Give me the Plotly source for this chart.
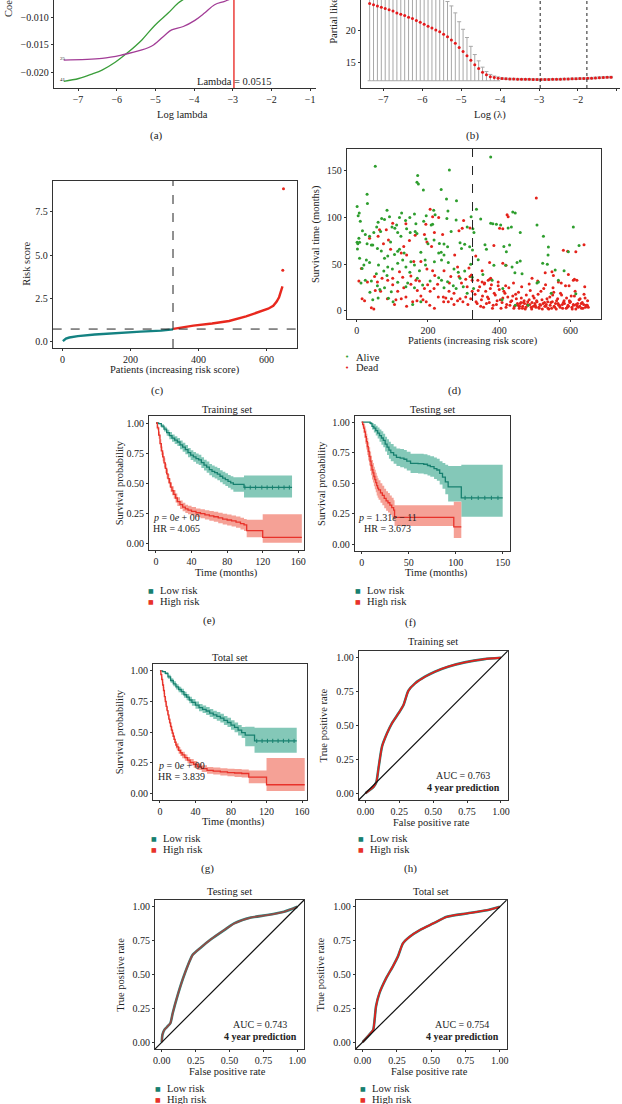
import numpy as np
import plotly.graph_objects as go

W, H = 622, 1104
SERIF = "Liberation Serif"
AX = "#333333"
TEAL, TEAL_FILL = "#17806F", "rgba(110,190,172,0.85)"
RED, RED_FILL = "#E8322A", "rgba(243,145,132,0.85)"

# ---------------- (a) lasso coefficient paths ----------------
coef_green_x = [-7.37, -6.98, -6.64, -6.38, -6.04, -5.74, -5.35, -5.03, -4.67, -4.41, -4.15, -3.9]
coef_green_y = [-0.0215, -0.0210, -0.0202, -0.0195, -0.0181, -0.0165, -0.0141, -0.0116, -0.0093, -0.0075, -0.0063, -0.005]
coef_purple_x = [-7.37, -6.38, -5.87, -5.35, -5.05, -4.75, -4.58, -4.28, -3.98, -3.73, -3.47, -3.21, -3.0, -2.8]
coef_purple_y = [-0.0177, -0.0174, -0.0168, -0.0159, -0.0150, -0.0132, -0.0123, -0.0117, -0.0106, -0.0093, -0.0078, -0.0072, -0.0066, -0.006]
lambda_min_log = -2.97
lambda_1se_log = -1.77

# ---------------- (b) cross-validation ----------------
log_lam = [-7.35, -7.25, -7.15, -7.05, -6.95, -6.85, -6.75, -6.65, -6.55, -6.45, -6.35, -6.25, -6.15,
           -6.05, -5.95, -5.85, -5.75, -5.65, -5.55, -5.45, -5.35, -5.25, -5.15, -5.05, -4.95, -4.85,
           -4.75, -4.65, -4.55, -4.45, -4.35, -4.25, -4.15, -4.05, -3.95, -3.85, -3.75, -3.65, -3.55,
           -3.45, -3.35, -3.25, -3.15, -3.05, -2.95, -2.85, -2.75, -2.65, -2.55, -2.45, -2.35, -2.25,
           -2.15, -2.05, -1.95, -1.85, -1.75, -1.65, -1.55, -1.45, -1.35, -1.25, -1.15]
cv_mean = [24.3, 24.1, 23.9, 23.7, 23.5, 23.3, 23.1, 22.8, 22.6, 22.4, 22.1, 21.9, 21.6, 21.3, 21.0,
           20.7, 20.4, 20.1, 19.8, 19.4, 19.0, 18.5, 18.0, 17.3, 16.7, 16.0, 15.3, 14.6, 14.0, 13.4,
           13.0, 12.7, 12.55, 12.45, 12.4, 12.36, 12.33, 12.31, 12.3, 12.29, 12.28, 12.27, 12.26,
           12.25, 12.25, 12.25, 12.26, 12.27, 12.28, 12.3, 12.31, 12.33, 12.35, 12.37, 12.39, 12.41,
           12.43, 12.46, 12.5, 12.54, 12.57, 12.6, 12.62]
cv_upper = [30.0, 30.0, 30.0, 30.0, 30.0, 30.0, 30.0, 30.0, 30.0, 30.0, 30.0, 30.0, 30.0, 30.0, 30.0,
            30.0, 30.0, 30.0, 30.0, 25.6, 24.6, 23.9, 22.8, 21.4, 20.2, 18.9, 17.5, 16.2, 15.2, 14.2,
            13.5, 13.05, 12.8, 12.65, 12.52, 12.48, 12.45, 12.43, 12.42, 12.41, 12.4, 12.39, 12.38,
            12.37, 12.37, 12.37, 12.38, 12.39, 12.4, 12.42, 12.43, 12.45, 12.47, 12.49, 12.51, 12.53,
            12.55, 12.58, 12.62, 12.66, 12.69, 12.72, 12.74]
cv_lower = [12.05, 12.05, 12.05, 12.05, 12.05, 12.05, 12.05, 12.05, 12.05, 12.05, 12.05, 12.05, 12.05,
            12.05, 12.05, 12.05, 12.05, 12.05, 12.05, 12.05, 12.05, 12.05, 12.05, 12.05, 12.05, 12.05,
            12.05, 12.05, 12.05, 12.05, 12.05, 12.05, 12.05, 12.05, 12.28, 12.24, 12.21, 12.19, 12.18,
            12.17, 12.16, 12.15, 12.14, 12.13, 12.13, 12.13, 12.14, 12.15, 12.16, 12.18, 12.19, 12.21,
            12.23, 12.25, 12.27, 12.29, 12.31, 12.34, 12.38, 12.42, 12.45, 12.48, 12.5]

# ---------------- (c) risk score curve ----------------
cutoff_patient = 325
cutoff_score = 0.70
low_rank = [1, 5, 10, 20, 45, 95, 160, 230, 290, 325]
low_score = [0.0, 0.09, 0.15, 0.21, 0.29, 0.38, 0.48, 0.55, 0.61, 0.68]
high_rank = [326, 385, 440, 490, 540, 575, 605, 620, 630, 637, 642, 645, 647]
high_score = [0.71, 0.9, 1.02, 1.17, 1.44, 1.68, 1.88, 2.05, 2.3, 2.55, 2.9, 3.1, 3.18]
outlier_rank = [648, 650]
outlier_score = [4.12, 8.85]

# ---------------- (d) survival status ----------------
alive_points = [
    (52, 155), (171, 145), (169, 138), (173, 136), (187, 129.5), (237, 130), (260, 151), (252, 120),
    (280, 118), (29, 125), (30, 115), (1, 112), (7, 105), (4, 102), (10, 96), (85, 108), (126, 105),
    (92, 101), (70, 99), (78, 98), (120, 100), (149, 100), (162, 104), (216, 108), (220, 103),
    (256, 107), (209, 92), (213, 93), (279, 97.5), (253, 99), (188, 96), (166, 93.5), (137, 97),
    (60, 95), (67, 85), (48, 84), (16, 86), (24, 82), (6, 78), (1, 73.5), (3, 72), (36, 80), (8, 73.5),
    (41, 70.6), (29, 72), (56, 90), (99, 90), (107, 88.5), (115, 84), (124, 80), (150, 84), (164, 85),
    (169, 83), (194, 77), (217, 76), (232, 72.4), (245, 71.7), (255, 68.8), (290, 73), (303, 71.4),
    (317, 68.8), (325, 65.3), (294, 67), (245, 60), (237, 63), (180, 63), (192, 54.6), (152, 52.8),
    (115, 64), (106, 60.6), (87, 58.9), (78, 56.4), (69, 64.2), (58, 67), (45, 70.6), (27, 54.6),
    (20, 49.2), (2, 66.4), (8, 56.4), (36, 52), (61, 49.2), (76, 42.8), (87, 47), (100, 45), (115, 51),
    (129, 54.6), (138, 47), (149, 41.4), (162, 49.2), (176, 43.2), (193, 49.2), (218, 52.8),
    (238, 54.6), (257, 52), (273, 45), (285, 41.4), (303, 42.8), (290, 35), (255, 31.4), (230, 35.7),
    (206, 32), (185, 27.8), (162, 25), (138, 26), (115, 30.7), (97, 20.7), (78, 25), (58, 27), (41, 32),
    (24, 33), (37, 20), (60, 14), (89, 13.5), (157, 7), (238, 33), (245, 25), (279, 24), (271, 27),
    (299, 26), (310, 19), (15, 45.6), (120, 66), (133, 62), (95, 74), (112, 92), (140, 88), (200, 72),
    (265, 85), (310, 90), (143, 30), (170, 35), (55, 40), (65, 23), (85, 38), (195, 102), (230, 62),
    (320, 50), (12, 30), (45, 12), (102, 10), (180, 10),
    (376, 165), (336, 109), (321, 101), (348, 98.5), (376, 94), (382, 93.5), (392, 93), (404, 92),
    (434, 90), (438, 106), (445, 105), (425, 89), (459, 84), (506, 92), (524, 80), (538, 68.5),
    (537, 60), (608, 90), (624, 70), (594, 63.5), (360, 71), (364, 66), (413, 69), (429, 70.6),
    (420, 63.5), (385, 49), (418, 49), (436, 47), (444, 41), (459, 53.5), (450, 52), (464, 40),
    (522, 51), (535, 50), (557, 44), (582, 43), (566, 33), (506, 30), (510, 31), (341, 55), (354, 39),
    (380, 33), (410, 24), (546, 19), (615, 18.5), (481, 6), (408, 12), (445, 6), (326, 88), (329, 84),
    (328, 24), (324, 36),
]
dead_points = [
    (206, 109), (194, 93), (213, 101), (138, 93.5), (101, 94), (83, 87), (64, 87), (36, 78), (190, 82),
    (164, 81), (148, 75.6), (132, 69), (197, 74), (210, 69), (140, 60), (125, 62), (180, 53), (160, 53),
    (287, 86), (296, 88.5), (318, 89), (241, 82), (218, 84), (89, 76), (75, 72), (13, 45.6), (6, 32),
    (50, 37), (58, 31), (87, 33), (101, 28), (115, 21), (132, 25), (152, 28.5), (166, 33), (197, 45),
    (213, 43), (219, 38), (227, 28.5), (245, 43), (264, 37), (287, 37), (294, 30), (306, 34), (318, 37),
    (324, 33), (322, 38.5), (283, 47), (315, 46), (273, 19), (259, 21), (243, 15), (217, 24), (206, 21),
    (190, 24), (180, 16), (169, 11), (157, 10), (138, 15), (125, 13), (106, 7), (86, 13), (67, 21),
    (52, 22), (41, 3.5), (48, 2), (15, 13), (22, 11), (186, 12), (195, 10), (205, 6), (218, 3), (229, 15),
    (244, 10), (250, 14), (257, 10), (266, 13), (273, 7), (283, 11), (290, 13), (298, 10), (306, 15),
    (312, 7), (320, 13), (324, 21), (199, 28), (176, 32), (152, 37.5), (120, 42), (129, 36), (101, 35),
    (71, 35), (30, 31), (95, 66), (60, 80), (230, 100), (300, 97), (275, 60), (110, 12), (140, 5),
    (170, 22), (260, 30), (310, 26),
    (504, 121), (422, 103), (425, 101), (410, 88), (401, 88.5), (385, 70), (373, 52), (410, 51),
    (419, 49), (334, 59), (352, 43), (369, 33), (373, 34), (352, 31), (580, 65), (592, 64), (615, 63.5),
    (638, 71), (529, 41), (548, 42), (552, 38), (594, 39), (611, 34), (608, 33), (566, 31), (492, 35),
    (332, 18), (338, 8), (345, 26), (350, 12), (356, 4), (362, 21), (367, 15), (372, 9), (378, 28),
    (383, 6), (389, 17), (394, 11), (400, 23), (405, 3), (410, 14), (416, 19), (421, 7), (427, 25),
    (432, 10), (438, 16), (443, 5), (448, 13), (454, 20), (459, 8), (465, 3), (470, 11), (476, 17),
    (481, 6), (487, 22), (492, 9), (498, 14), (503, 4), (509, 18), (514, 7), (520, 12), (525, 24),
    (531, 5), (536, 10), (542, 15), (547, 3), (553, 20), (558, 8), (564, 13), (569, 6), (575, 17),
    (580, 9), (586, 27), (591, 4), (597, 11), (602, 16), (608, 7), (613, 21), (619, 5), (624, 12),
    (630, 8), (635, 3), (641, 14), (646, 6), (650, 4),
    (335, 10), (341, 22), (348, 5), (353, 16), (359, 30), (364, 8), (370, 13), (375, 24), (381, 3),
    (386, 19), (392, 7), (397, 27), (403, 12), (408, 9), (413, 21), (419, 4), (424, 15), (430, 6),
    (435, 11), (441, 3), (446, 18), (451, 8), (457, 5), (462, 14), (468, 9), (473, 2), (479, 7),
    (484, 12), (490, 4), (495, 16), (501, 6), (506, 10), (512, 3), (517, 21), (523, 8), (528, 5),
    (534, 13), (539, 2), (545, 9), (550, 17), (556, 4), (561, 11), (567, 6), (572, 19), (578, 3),
    (583, 8), (589, 14), (594, 5), (600, 10), (605, 2), (611, 16), (616, 7), (622, 4), (627, 13),
    (633, 9), (638, 18), (644, 6), (648, 11),
    (452, 6), (456, 3), (461, 9), (466, 5), (471, 8), (475, 4), (480, 10), (486, 7), (491, 2), (496, 5),
    (500, 8), (505, 11), (511, 4), (516, 6), (521, 2), (527, 9), (532, 7), (537, 3), (543, 6), (549, 10),
    (554, 5), (560, 2), (565, 8), (571, 4), (577, 7), (582, 11), (588, 3), (593, 6), (598, 9), (604, 4),
    (609, 6), (615, 2), (620, 8), (626, 5), (631, 3), (637, 7), (642, 4), (647, 6),
    (340, 33), (358, 29), (376, 35), (397, 31), (418, 27), (440, 30), (463, 26), (484, 29), (508, 32),
    (530, 28), (551, 25), (574, 30), (596, 27), (618, 33), (640, 26),
]

# ---------------- (e)-(g) Kaplan-Meier ----------------
train_low_t = [0, 3, 6, 9, 12, 15, 18, 21, 24, 27, 30, 33, 36, 39, 42, 45, 48, 51, 54, 57, 60, 63, 66, 69, 72, 75, 78, 81, 84, 87, 99, 153]
train_low_s = [1.0, 0.995, 0.975, 0.95, 0.92, 0.895, 0.875, 0.858, 0.843, 0.82, 0.80, 0.78, 0.755, 0.735, 0.72, 0.705, 0.695, 0.672, 0.652, 0.635, 0.615, 0.60, 0.59, 0.577, 0.56, 0.545, 0.532, 0.518, 0.505, 0.492, 0.467, 0.467]
train_low_up = [1.0, 1.0, 0.99, 0.97, 0.945, 0.925, 0.905, 0.89, 0.877, 0.856, 0.837, 0.818, 0.794, 0.775, 0.761, 0.747, 0.738, 0.716, 0.697, 0.681, 0.662, 0.648, 0.639, 0.627, 0.61, 0.596, 0.584, 0.571, 0.56, 0.552, 0.567, 0.567]
train_low_lo = [1.0, 0.99, 0.96, 0.93, 0.895, 0.865, 0.845, 0.826, 0.809, 0.784, 0.763, 0.742, 0.716, 0.695, 0.679, 0.663, 0.652, 0.628, 0.607, 0.589, 0.568, 0.552, 0.541, 0.527, 0.51, 0.494, 0.48, 0.465, 0.45, 0.432, 0.385, 0.385]
train_high_t = [0, 1.5, 3, 4.5, 6, 7.5, 9, 10.5, 12, 13.5, 15, 16.5, 18, 20, 22, 24, 27, 30, 33, 36, 40, 45, 50, 55, 60, 65, 70, 75, 80, 85, 90, 95, 99, 102, 120, 164]
train_high_s = [1.0, 0.96, 0.9, 0.83, 0.77, 0.72, 0.67, 0.625, 0.58, 0.54, 0.505, 0.47, 0.44, 0.41, 0.38, 0.35, 0.325, 0.305, 0.29, 0.28, 0.27, 0.258, 0.25, 0.24, 0.232, 0.225, 0.215, 0.205, 0.198, 0.19, 0.18, 0.168, 0.157, 0.11, 0.055, 0.055]
train_high_up = [1.0, 0.98, 0.93, 0.865, 0.805, 0.757, 0.708, 0.663, 0.618, 0.578, 0.543, 0.508, 0.478, 0.447, 0.417, 0.386, 0.36, 0.34, 0.325, 0.315, 0.305, 0.294, 0.287, 0.278, 0.272, 0.266, 0.258, 0.249, 0.243, 0.236, 0.227, 0.216, 0.207, 0.2, 0.245, 0.245]
train_high_lo = [1.0, 0.94, 0.87, 0.795, 0.735, 0.683, 0.632, 0.587, 0.542, 0.502, 0.467, 0.432, 0.402, 0.373, 0.343, 0.314, 0.29, 0.27, 0.255, 0.245, 0.235, 0.222, 0.213, 0.202, 0.192, 0.184, 0.172, 0.161, 0.153, 0.144, 0.133, 0.12, 0.107, 0.055, 0.01, 0.01]
train_low_cens = [100, 106, 112, 119, 125, 131, 138, 144, 150]

test_low_t = [0, 9, 11, 13, 15, 17, 19, 21, 23, 25, 27, 29, 31, 34, 37, 41, 45, 48, 52, 60, 66, 70, 73, 77, 80, 83, 86, 89, 92, 106, 150]
test_low_s = [1.0, 0.99, 0.965, 0.95, 0.93, 0.91, 0.89, 0.87, 0.85, 0.82, 0.795, 0.77, 0.75, 0.73, 0.712, 0.705, 0.696, 0.68, 0.663, 0.66, 0.655, 0.645, 0.636, 0.62, 0.608, 0.58, 0.55, 0.51, 0.47, 0.38, 0.38]
test_low_up = [1.0, 1.0, 0.99, 0.985, 0.97, 0.955, 0.94, 0.925, 0.905, 0.88, 0.86, 0.84, 0.82, 0.8, 0.785, 0.78, 0.772, 0.757, 0.742, 0.74, 0.737, 0.728, 0.72, 0.71, 0.70, 0.68, 0.665, 0.65, 0.64, 0.65, 0.65]
test_low_lo = [1.0, 0.98, 0.94, 0.915, 0.89, 0.865, 0.84, 0.815, 0.795, 0.76, 0.73, 0.7, 0.68, 0.66, 0.64, 0.63, 0.62, 0.603, 0.584, 0.58, 0.573, 0.562, 0.552, 0.534, 0.52, 0.49, 0.455, 0.41, 0.35, 0.225, 0.225]
test_high_t = [0, 1, 2, 3, 4, 5, 6, 7, 8, 9, 10, 11, 12, 13, 14, 15, 16, 17, 18, 20, 22, 24, 26, 28, 30, 32, 34, 35, 98, 106]
test_high_s = [1.0, 0.98, 0.95, 0.92, 0.88, 0.84, 0.8, 0.76, 0.72, 0.68, 0.645, 0.61, 0.585, 0.555, 0.53, 0.505, 0.48, 0.46, 0.445, 0.42, 0.4, 0.375, 0.355, 0.34, 0.32, 0.3, 0.28, 0.22, 0.142, 0.142]
test_high_up = [1.0, 1.0, 0.99, 0.97, 0.94, 0.905, 0.87, 0.835, 0.795, 0.76, 0.725, 0.69, 0.665, 0.635, 0.61, 0.585, 0.56, 0.54, 0.525, 0.5, 0.48, 0.455, 0.435, 0.42, 0.4, 0.38, 0.36, 0.32, 0.348, 0.348]
test_high_lo = [1.0, 0.96, 0.91, 0.87, 0.82, 0.775, 0.73, 0.685, 0.645, 0.6, 0.565, 0.53, 0.505, 0.475, 0.45, 0.425, 0.4, 0.38, 0.365, 0.34, 0.32, 0.295, 0.275, 0.26, 0.24, 0.22, 0.2, 0.15, 0.052, 0.052]
test_low_cens = [110, 117, 124, 131, 138, 145]

tot_low_t = [0, 3, 6, 9, 12, 15, 18, 21, 24, 27, 30, 33, 36, 40, 44, 48, 52, 56, 60, 64, 68, 72, 76, 80, 84, 88, 92, 96, 106.5, 154]
tot_low_s = [1.0, 0.995, 0.98, 0.952, 0.922, 0.895, 0.87, 0.848, 0.83, 0.805, 0.786, 0.762, 0.742, 0.72, 0.70, 0.686, 0.672, 0.655, 0.641, 0.628, 0.614, 0.595, 0.578, 0.557, 0.538, 0.515, 0.495, 0.474, 0.427, 0.427]
tot_low_up = [1.0, 1.0, 0.99, 0.968, 0.94, 0.915, 0.892, 0.871, 0.854, 0.83, 0.812, 0.789, 0.77, 0.749, 0.73, 0.717, 0.704, 0.688, 0.675, 0.663, 0.65, 0.632, 0.616, 0.596, 0.578, 0.558, 0.54, 0.542, 0.534, 0.534]
tot_low_lo = [1.0, 0.99, 0.97, 0.936, 0.904, 0.875, 0.848, 0.825, 0.806, 0.78, 0.76, 0.735, 0.714, 0.691, 0.67, 0.655, 0.64, 0.622, 0.607, 0.593, 0.578, 0.558, 0.54, 0.518, 0.498, 0.472, 0.45, 0.384, 0.33, 0.33]
tot_high_t = [0, 1, 2, 3, 4, 5, 6, 7, 8, 9, 10, 11, 12, 13, 14, 15, 16, 17, 18, 19, 21, 23, 25, 28, 31, 34, 38, 42, 47, 53, 60, 68, 76, 84, 92, 100, 120, 163]
tot_high_s = [1.0, 0.97, 0.93, 0.885, 0.84, 0.79, 0.75, 0.71, 0.675, 0.64, 0.605, 0.575, 0.545, 0.515, 0.49, 0.465, 0.44, 0.415, 0.395, 0.378, 0.35, 0.33, 0.312, 0.29, 0.27, 0.252, 0.235, 0.215, 0.2, 0.186, 0.18, 0.173, 0.168, 0.164, 0.16, 0.13, 0.068, 0.068]
tot_high_up = [1.0, 0.985, 0.955, 0.912, 0.868, 0.82, 0.78, 0.74, 0.705, 0.67, 0.635, 0.605, 0.575, 0.545, 0.52, 0.495, 0.47, 0.445, 0.425, 0.407, 0.378, 0.357, 0.339, 0.316, 0.296, 0.278, 0.262, 0.242, 0.228, 0.214, 0.209, 0.203, 0.199, 0.196, 0.193, 0.185, 0.288, 0.288]
tot_high_lo = [1.0, 0.955, 0.905, 0.858, 0.812, 0.76, 0.72, 0.68, 0.645, 0.61, 0.575, 0.545, 0.515, 0.485, 0.46, 0.435, 0.41, 0.385, 0.365, 0.349, 0.322, 0.303, 0.285, 0.264, 0.244, 0.226, 0.208, 0.188, 0.172, 0.158, 0.151, 0.143, 0.137, 0.132, 0.127, 0.08, 0.016, 0.016]
tot_low_cens = [109, 115, 121, 127, 133, 139, 145, 151]

# ---------------- ROC curves ----------------
roc_train_fpr = [0, 0.061, 0.08, 0.098, 0.122, 0.159, 0.195, 0.244, 0.28, 0.317, 0.366, 0.439, 0.512, 0.61, 0.732, 0.878, 1.0]
roc_train_tpr = [0, 0.049, 0.081, 0.197, 0.344, 0.442, 0.516, 0.59, 0.65, 0.757, 0.811, 0.86, 0.897, 0.934, 0.966, 0.99, 1.0]
roc_test_fpr = [0, 0.005, 0.02, 0.044, 0.064, 0.081, 0.118, 0.167, 0.228, 0.289, 0.363, 0.461, 0.534, 0.657, 0.779, 0.902, 1.0]
roc_test_tpr = [0, 0.056, 0.093, 0.118, 0.142, 0.216, 0.35, 0.5, 0.645, 0.70, 0.76, 0.828, 0.877, 0.92, 0.939, 0.963, 1.0]
roc_tot_fpr = [0, 0.061, 0.078, 0.098, 0.123, 0.172, 0.22, 0.257, 0.294, 0.343, 0.417, 0.515, 0.613, 0.76, 0.907, 1.0]
roc_tot_tpr = [0, 0.069, 0.093, 0.265, 0.363, 0.473, 0.559, 0.632, 0.73, 0.779, 0.828, 0.877, 0.926, 0.951, 0.975, 1.0]
ROC_RANGE = [-0.05, 1.05]


def px(x):
    return x / W


def py(y):
    return 1 - y / H


fig = go.Figure()
layout = dict(width=W, height=H, margin=dict(l=0, r=0, t=0, b=0), paper_bgcolor="white",
              plot_bgcolor="white", showlegend=False)
annotations = []
shapes = []


def axes(n, x0, x1, y0, y1, xr, yr, xt, yt, xfmt=None, yfmt=None, box=True):
    base = dict(showline=True, linecolor=AX, linewidth=1, mirror=box, ticks="outside", ticklen=2,
                tickcolor=AX, tickfont=dict(family=SERIF, size=10, color="#222"), showgrid=False,
                zeroline=False, fixedrange=True)
    sfx = "" if n == 1 else str(n)
    xa = dict(base, domain=[px(x0), px(x1)], range=xr, tickvals=xt, anchor="y" + sfx)
    ya = dict(base, domain=[py(y1), py(y0)], range=yr, tickvals=yt, anchor="x" + sfx)
    if xfmt:
        xa["tickformat"] = xfmt
    if yfmt:
        ya["tickformat"] = yfmt
    layout["xaxis" + sfx] = xa
    layout["yaxis" + sfx] = ya
    return "x" + sfx, "y" + sfx


def txt(x, y, s, size=10.5, angle=0, xanchor="center", color="#222", family=SERIF):
    annotations.append(dict(x=px(x), y=py(y), xref="paper", yref="paper", text=s, showarrow=False,
                            font=dict(family=family, size=size, color=color), textangle=angle,
                            xanchor=xanchor, yanchor="middle"))


# (a)
xa, ya = axes(1, 52, 316, 0, 88, [-7.63, -0.85], [-0.0227, -0.00696], [-7, -6, -5, -4, -3, -2, -1],
              [-0.02, -0.015, -0.01], yfmt=".3f", box=False)
fig.add_trace(go.Scatter(x=coef_green_x, y=coef_green_y, mode="lines", line=dict(color="#3A9E3A", width=1.3, shape="spline"), xaxis=xa, yaxis=ya))
fig.add_trace(go.Scatter(x=coef_purple_x, y=coef_purple_y, mode="lines", line=dict(color="#A23C96", width=1.3, shape="spline"), xaxis=xa, yaxis=ya))
shapes.append(dict(type="line", xref=xa, yref=ya + " domain", x0=lambda_min_log, x1=lambda_min_log, y0=0, y1=1, line=dict(color="#E8201C", width=1.3)))
txt(56, 59, "25", size=5, xanchor="left")
txt(56, 80, "41", size=5, xanchor="left")
txt(234, 81, "Lambda = 0.0515", size=10.5)
txt(182, 115, "Log lambda", size=10.5)
txt(6, -9, "Coefficients", size=10.5, angle=-90)
txt(155, 135, "(a)", size=11)

# (b)
xa, ya = axes(2, 361, 622, 0, 88, [-7.58, -0.92], [10.9, 24.84], [-7, -6, -5, -4, -3, -2, -1], [15, 20], box=False)
mean = np.array(cv_mean)
fig.add_trace(go.Scatter(x=log_lam, y=cv_mean, mode="markers", marker=dict(color="#E41A1C", size=3),
                         error_y=dict(type="data", symmetric=False, array=np.array(cv_upper) - mean,
                                      arrayminus=mean - np.array(cv_lower), color="#A8A8A8", thickness=1, width=2),
                         xaxis=xa, yaxis=ya))
for v in (lambda_min_log, lambda_1se_log):
    shapes.append(dict(type="line", xref=xa, yref=ya + " domain", x0=v, x1=v, y0=0, y1=1, line=dict(color="#222", width=1, dash="dot")))
txt(491, 115, "Log (λ)", size=10.5)
txt(333, -13, "Partial likelihood deviance", size=10.5, angle=-90)
txt(474, 135, "(b)", size=11)

# (c)
xa, ya = axes(3, 51, 297, 181, 348, [-29, 690], [-0.4, 9.3], [0, 200, 400, 600], [0, 2.5, 5, 7.5], yfmt=".1f")
fig.add_trace(go.Scatter(x=low_rank, y=low_score, mode="lines", line=dict(color="#148282", width=2.4), xaxis=xa, yaxis=ya))
fig.add_trace(go.Scatter(x=high_rank, y=high_score, mode="lines", line=dict(color="#E8281E", width=2.4), xaxis=xa, yaxis=ya))
fig.add_trace(go.Scatter(x=outlier_rank, y=outlier_score, mode="markers", marker=dict(color="#E8281E", size=3), xaxis=xa, yaxis=ya))
shapes.append(dict(type="line", xref=xa, yref=ya + " domain", x0=cutoff_patient, x1=cutoff_patient, y0=0, y1=1, line=dict(color="#222", width=1, dash="dash")))
shapes.append(dict(type="line", xref=xa + " domain", yref=ya, x0=0, x1=1, y0=cutoff_score, y1=cutoff_score, line=dict(color="#222", width=1, dash="dash")))
txt(25, 264, "Risk score", angle=-90)
txt(174, 370, "Patients (increasing risk score)")
txt(157, 390, "(c)", size=11)

# (d)
xa, ya = axes(4, 347, 603, 149, 319, [-28, 686], [-8.6, 173.5], [0, 200, 400, 600], [0, 50, 100, 150])
ap = np.array(alive_points)
dp = np.array(dead_points)
fig.add_trace(go.Scatter(x=dp[:, 0], y=dp[:, 1], mode="markers", marker=dict(color="#E4231B", size=3), xaxis=xa, yaxis=ya))
fig.add_trace(go.Scatter(x=ap[:, 0], y=ap[:, 1], mode="markers", marker=dict(color="#2E9E2E", size=3), xaxis=xa, yaxis=ya))
shapes.append(dict(type="line", xref=xa, yref=ya + " domain", x0=cutoff_patient, x1=cutoff_patient, y0=0, y1=1, line=dict(color="#222", width=1, dash="dash")))
txt(316, 234, "Survival time (months)", angle=-90)
txt(474, 341, "Patients (increasing risk score)")
txt(347, 357, "•", size=7, color="#2E9E2E", family="DejaVu Sans")
txt(354, 357, "Alive", xanchor="left")
txt(347, 368, "•", size=7, color="#E4231B", family="DejaVu Sans")
txt(354, 368, "Dead", xanchor="left")
txt(455, 390, "(d)", size=11)


def step_at(t, s, q):
    idx = np.searchsorted(np.array(t), np.array(q), side="right") - 1
    return np.array(s)[idx]


def km_panel(xa, ya, low, high, cens):
    for (t, s, up, lo), fill in ((low, TEAL_FILL), (high, RED_FILL)):
        fig.add_trace(go.Scatter(x=t, y=up, mode="lines", line=dict(width=0, shape="hv"), xaxis=xa, yaxis=ya, hoverinfo="skip"))
        fig.add_trace(go.Scatter(x=t, y=lo, mode="lines", line=dict(width=0, shape="hv"), fill="tonexty", fillcolor=fill, xaxis=xa, yaxis=ya, hoverinfo="skip"))
    for (t, s, up, lo), col in ((low, TEAL), (high, RED)):
        fig.add_trace(go.Scatter(x=t, y=s, mode="lines", line=dict(color=col, width=1.3, shape="hv"), xaxis=xa, yaxis=ya))
    fig.add_trace(go.Scatter(x=cens, y=step_at(low[0], low[1], cens), mode="markers",
                             marker=dict(symbol="line-ns-open", size=3, color=TEAL, line=dict(width=1, color=TEAL)), xaxis=xa, yaxis=ya))


def legend(x, y1, y2):
    txt(x, y1, "■", size=6, color=TEAL, family="DejaVu Sans")
    txt(x + 7, y1, "Low risk", xanchor="left")
    txt(x, y2, "■", size=6, color=RED, family="DejaVu Sans")
    txt(x + 7, y2, "High risk", xanchor="left")


surv_ticks = [0, 0.25, 0.5, 0.75, 1.0]

# (e)
xa, ya = axes(5, 148, 304, 416, 550, [-7.8, 166.5], [-0.05, 1.058], [0, 40, 80, 120, 160], surv_ticks, yfmt=".2f")
km_panel(xa, ya, (train_low_t, train_low_s, train_low_up, train_low_lo),
         (train_high_t, train_high_s, train_high_up, train_high_lo), train_low_cens)
txt(226, 409, "Training set")
txt(176, 517, "<i>p</i> = 0<i>e</i> + 00", size=10)
txt(176, 528, "HR = 4.065", size=10)
txt(226, 573, "Time (months)")
txt(118, 483, "Survival probability", angle=-90)
legend(150, 590, 601)
txt(209, 620, "(e)", size=11)

# (f)
xa, ya = axes(6, 355, 511, 416, 551, [-7.4, 157.5], [-0.055, 1.05], [0, 50, 100, 150], surv_ticks, yfmt=".2f")
km_panel(xa, ya, (test_low_t, test_low_s, test_low_up, test_low_lo),
         (test_high_t, test_high_s, test_high_up, test_high_lo), test_low_cens)
txt(433, 409, "Testing set")
txt(388, 517, "<i>p</i> = 1.31<i>e</i> − 11", size=10)
txt(388, 528, "HR = 3.673", size=10)
txt(437, 573, "Time (months)")
txt(321, 483, "Survival probability", angle=-90)
legend(358, 590, 601)
txt(411, 622, "(f)", size=11)

# (g)
xa, ya = axes(7, 152, 307, 664, 800, [-7.8, 165.6], [-0.057, 1.057], [0, 40, 80, 120, 160], surv_ticks, yfmt=".2f")
km_panel(xa, ya, (tot_low_t, tot_low_s, tot_low_up, tot_low_lo),
         (tot_high_t, tot_high_s, tot_high_up, tot_high_lo), tot_low_cens)
txt(229, 657, "Total set")
txt(181, 765, "<i>p</i> = 0<i>e</i> + 00", size=10)
txt(181, 776, "HR = 3.839", size=10)
txt(233, 822, "Time (months)")
txt(119, 732, "Survival probability", angle=-90)
legend(153, 838, 849)
txt(207, 868, "(g)", size=11)


def roc_panel(n, x0, x1, y0, y1, fpr, tpr, auc, title, tx, ty, title_y, red_opacity=1.0):
    xa, ya = axes(n, x0, x1, y0, y1, ROC_RANGE, ROC_RANGE, surv_ticks, surv_ticks, xfmt=".2f", yfmt=".2f")
    shapes.append(dict(type="line", xref=xa, yref=ya, x0=ROC_RANGE[0], y0=ROC_RANGE[0], x1=ROC_RANGE[1], y1=ROC_RANGE[1], line=dict(color="#111", width=1.2)))
    fig.add_trace(go.Scatter(x=fpr, y=tpr, mode="lines", line=dict(color="#1F8C84", width=2.6, shape="spline", smoothing=0.6), xaxis=xa, yaxis=ya))
    fig.add_trace(go.Scatter(x=fpr, y=tpr, mode="lines", opacity=red_opacity, line=dict(color="#E0201C", width=1.8, shape="spline", smoothing=0.6), xaxis=xa, yaxis=ya))
    cx = (x0 + x1) / 2
    txt(cx, title_y, title)
    txt(tx, ty, "AUC = " + auc, size=10)
    txt(tx, ty + 12, "<b>4 year prediction</b>", size=10)
    txt(cx - 2, y1 + 22, "False positive rate")
    txt(x0 - 35, (y0 + y1) / 2, "True positive rate", angle=-90)


# (h)
roc_panel(8, 359, 509, 651, 800, roc_train_fpr, roc_train_tpr, "0.763", "Training set", 464, 775, 641)
legend(361, 838, 849)
txt(411, 868, "(h)", size=11)

# bottom row
roc_panel(9, 154, 304, 900, 1049, roc_test_fpr, roc_test_tpr, "0.743", "Testing set", 260, 1024, 891, red_opacity=0.6)
legend(157, 1088, 1099)
roc_panel(10, 356, 508, 900, 1049, roc_tot_fpr, roc_tot_tpr, "0.754", "Total set", 463, 1024, 891)
legend(363, 1088, 1099)

layout["annotations"] = annotations
layout["shapes"] = shapes
fig.update_layout(**layout)
# the page body gets a default 8px margin; drop it so the figure fills the window exactly
fig.write_html("out.html", config={"displayModeBar": False},
               post_script="document.body.style.margin='0';")
